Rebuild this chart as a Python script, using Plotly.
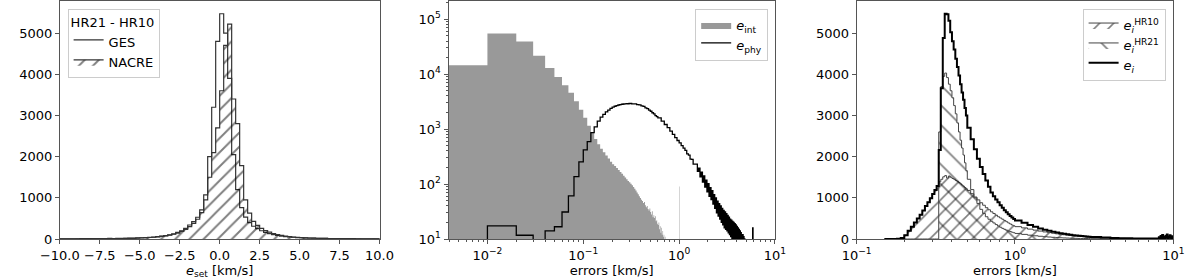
import numpy as np
import plotly.graph_objects as go

# ---------------- Panel 1: e_set histograms (bins of 0.25 km/s from -10 to 10)
p1_start, p1_step = -10.0, 0.25
ges_counts = [3, 5, 4, 6, 5, 7, 8, 7, 9, 10, 9, 12, 13, 12, 15, 17, 18, 21, 23, 27,
              30, 34, 40, 47, 56, 68, 82, 100, 125, 160, 200, 260,
              340, 421, 528, 705, 1070, 2000, 3200, 4800,
              5470, 5000, 3900, 2050, 1200, 760, 530, 400, 310, 250,
              200, 160, 130, 106, 87, 72, 60, 50, 42, 35,
              30, 26, 23, 20, 18, 16, 14, 12, 11, 10, 9, 8, 7, 7, 6, 5, 5, 4, 4, 3]
nacre_counts = [2, 3, 3, 4, 4, 5, 5, 6, 6, 7, 8, 8, 9, 10, 11, 12, 14, 15, 17, 19,
                27, 31, 36, 43, 51, 62, 75, 92, 115, 145, 185, 235,
                300, 380, 480, 640, 950, 1500, 2100, 2700,
                3600, 4700, 5220, 3400, 2800, 1780, 950, 630, 430, 330,
                260, 205, 165, 132, 106, 86, 70, 57, 47, 39,
                33, 28, 24, 21, 18, 16, 14, 12, 11, 10, 9, 8, 7, 6, 6, 5, 5, 4, 4, 3]

# ---------------- Panel 2: e_int and e_phy (linear bins, log axes)
eint_start, eint_step = 0.0, 0.01
eint_counts = [14500, 55000, 39000, 21500, 12900, 8900, 6300, 4600, 3200, 2250,
               1600, 1150, 850, 660, 530, 440, 380, 330, 290, 255,
               230, 212, 196, 180, 166, 154, 142, 132, 122, 114,
               108, 101, 95, 88, 82, 76, 70, 65, 60, 56,
               52, 49, 45, 47, 41, 38, 40, 35, 33, 36,
               31, 28, 32, 25, 27, 24, 26, 21, 22, 19,
               18, 20, 15, 17, 13, 16, 12, 14, 11, 12,
               9, 11, 8, 10, 7, 9, 6, 7, 5, 6,
               4, 5, 3, 4, 3, 3, 2, 3, 2, 2,
               1, 2, 1, 1, 1, 1, 0, 1, 0, 0,
               90]
ephy_seg_starts = [0.0, 0.3, 0.6]
ephy_seg_steps = [0.01, 0.02, 0.05]
ephy_counts_a = [5, 17.4, 11.7, 6, 14, 16.7, 31, 61, 136, 254,
                 417, 590, 860, 1100, 1400, 1650, 1850, 2050, 2220, 2380,
                 2500, 2600, 2680, 2740, 2790, 2830, 2860, 2880, 2900, 2890]
ephy_counts_b = [2920, 2870, 2880, 2790, 2760, 2640, 2580, 2430, 2350, 2210,
                 2110, 1980, 1890, 1760, 1690]
ephy_counts_c = [1600, 1400, 1210, 1060, 920, 800, 700, 620, 560, 500,
                 450, 410, 355, 335, 285, 280, 230, 230,
                 230, 170, 195, 135, 165, 108, 140, 88, 118, 72,
                 102, 60, 86, 52, 76, 43, 64, 36, 56, 30,
                 49, 26, 44, 23, 40, 20, 36, 18, 33, 16,
                 31, 15, 29, 14, 27, 13, 25, 12, 23, 11,
                 22, 10, 21, 9, 20, 8, 19, 8, 18, 7,
                 17, 7, 16, 6, 15, 6, 14, 5, 13, 5,
                 12, 4, 12, 4, 11, 3, 10, 3, 9, 3,
                 8, 2, 7, 2, 6, 2, 5, 2, 4, 1,
                 3, 1, 2, 1, 1, 1, 2, 16, 1, 0]

# ---------------- Panel 3: e_i histograms
p3_seg_starts = [0.15, 0.50, 1.0, 3.0, 8.0]
p3_seg_steps = [0.01, 0.025, 0.1, 0.5, 0.1]
hr10_counts = [0, 0, 2, 8, 25, 90, 200, 300, 400, 500,
               590, 690, 800, 890, 990, 1090, 1190, 1290, 1390, 1450,
               1510, 1540, 1480, 1530, 1500, 1470, 1450, 1420, 1400, 1370,
               1340, 1310, 1280, 1250, 1220,
               1180, 1100, 1020, 950, 880, 820, 760, 710, 660, 620,
               580, 540, 510, 480, 450, 420, 390, 365, 340, 320,
               300, 270, 240, 215, 192, 172, 155, 140, 126, 114,
               103, 93, 85, 78, 72, 66, 61, 56, 52, 49,
               40, 28, 20, 14, 10, 8, 6, 5, 4, 4,
               3, 2, 3, 2, 2, 3, 2, 2, 3, 2, 2, 2, 3, 2, 2, 2, 3, 2, 2, 2]
hr21_counts = [0, 0, 0, 0, 0, 0, 0, 0, 0, 0, 0, 0, 0, 0, 0, 0, 0, 0,
               2600, 3700, 3950, 4030, 3920, 3760, 3600, 3430, 3240, 3040,
               2820, 2600, 2400, 2210, 2040, 1850, 1660,
               1450, 1200, 1000, 860, 720, 620, 540, 480, 430, 390,
               350, 315, 285, 258, 235, 215, 197, 180, 165, 152,
               135, 112, 93, 78, 66, 56, 48, 41, 35, 30,
               26, 23, 20, 18, 16, 14, 13, 12, 11, 10,
               8, 6, 4, 3, 2, 2, 2, 1, 1, 1,
               1, 1, 0, 1, 1, 0, 1, 1, 0, 1, 1, 0, 1, 1, 0, 1, 1, 0, 1, 1]
ei_counts = [0, 0, 2, 8, 25, 90, 200, 300, 400, 500,
             590, 690, 800, 890, 990, 1090, 1190, 1290,
             2160, 3660, 4880, 5470, 5460, 5300, 5020, 4800, 4600, 4380,
             4180, 3970, 3760, 3560, 3380, 3180, 3000,
             2700, 2420, 2180, 1950, 1750, 1580, 1420, 1270, 1130, 1040,
             960, 890, 820, 760, 700, 650, 600, 560, 520, 485,
             450, 395, 340, 295, 258, 226, 200, 178, 158, 141,
             126, 113, 102, 93, 85, 78, 72, 66, 61, 57,
             48, 36, 27, 21, 17, 14, 12, 11, 10, 11,
             15, 40, 10, 70, 20, 95, 25, 50, 12, 80, 35, 110, 18, 60, 28, 90, 45, 22, 65, 30]
p3_seg_sizes = [35, 20, 20, 10, 20]


def seg_edges(starts, steps, sizes):
    parts = [s + d * np.arange(n) for s, d, n in zip(starts, steps, sizes)]
    last = starts[-1] + steps[-1] * sizes[-1]
    return np.round(np.concatenate(parts + [[last]]), 6)


def step_xy(edges, counts, floor=0.0):
    c = np.maximum(np.asarray(counts, float), floor)
    x = np.concatenate([[edges[0]], edges[:-1], [edges[-1]]])
    y = np.concatenate([[floor], c, [floor]])
    return x, y


p1_edges = seg_edges([p1_start], [p1_step], [len(ges_counts)])
eint_edges = seg_edges([eint_start], [eint_step], [len(eint_counts)])
eint_edges = np.where(eint_edges <= 0, 1e-3, eint_edges)
ephy_edges = seg_edges(ephy_seg_starts, ephy_seg_steps,
                       [len(ephy_counts_a), len(ephy_counts_b), len(ephy_counts_c)])
ephy_edges = np.where(ephy_edges <= 0, 1e-3, ephy_edges)
ephy_counts = ephy_counts_a + ephy_counts_b + ephy_counts_c
p3_edges = seg_edges(p3_seg_starts, p3_seg_steps, p3_seg_sizes)

EDGE = '#333333'
CLEAR = 'rgba(255,255,255,0)'
fig = go.Figure()

# Panel 1
x, y = step_xy(p1_edges, ges_counts)
fig.add_trace(go.Scatter(x=x, y=y, mode='lines', name='GES', legend='legend',
                         line=dict(shape='hv', color=EDGE, width=1.2),
                         fill='toself', fillcolor=CLEAR, xaxis='x', yaxis='y'))
x, y = step_xy(p1_edges, nacre_counts)
fig.add_trace(go.Scatter(x=x, y=y, mode='lines', name='NACRE', legend='legend',
                         line=dict(shape='hv', color=EDGE, width=1.2),
                         fill='toself', fillcolor=CLEAR,
                         fillpattern=dict(shape='/', fgcolor='#000', bgcolor=CLEAR,
                                          size=10, solidity=0.2),
                         xaxis='x', yaxis='y'))

# Panel 2
x, y = step_xy(eint_edges, eint_counts, floor=1.0)
fig.add_trace(go.Scatter(x=x, y=y, mode='lines', name='<i>e</i><sub>int</sub>', legend='legend2',
                         line=dict(shape='hv', color='#999999', width=0),
                         fill='toself', fillcolor='#999999', xaxis='x2', yaxis='y2'))
x, y = step_xy(ephy_edges, ephy_counts, floor=1.0)
fig.add_trace(go.Scatter(x=x, y=y, mode='lines', name='<i>e</i><sub>phy</sub>', legend='legend2',
                         line=dict(shape='hv', color='black', width=1.3),
                         fill='toself', fillcolor=CLEAR, xaxis='x2', yaxis='y2'))

# Panel 3
x, y = step_xy(p3_edges, hr10_counts)
fig.add_trace(go.Scatter(x=x, y=y, mode='lines', name='<i>e<sub>i</sub></i><sup>HR10</sup>',
                         legend='legend3', line=dict(shape='hv', color='#444', width=1),
                         fill='toself', fillcolor=CLEAR,
                         fillpattern=dict(shape='/', fgcolor='#000', bgcolor=CLEAR,
                                          size=10, solidity=0.16),
                         xaxis='x3', yaxis='y3'))
x, y = step_xy(p3_edges, hr21_counts)
fig.add_trace(go.Scatter(x=x, y=y, mode='lines', name='<i>e<sub>i</sub></i><sup>HR21</sup>',
                         legend='legend3', line=dict(shape='hv', color='#444', width=1),
                         fill='toself', fillcolor=CLEAR,
                         fillpattern=dict(shape='\\', fgcolor='#000', bgcolor=CLEAR,
                                          size=14, solidity=0.12),
                         xaxis='x3', yaxis='y3'))
x, y = step_xy(p3_edges, ei_counts)
fig.add_trace(go.Scatter(x=x, y=y, mode='lines', name='<i>e<sub>i</sub></i>',
                         legend='legend3', line=dict(shape='hv', color='black', width=2),
                         fill='toself', fillcolor=CLEAR, xaxis='x3', yaxis='y3'))

W = 1200.0
axis_common = dict(showline=True, linecolor='#555', linewidth=1, mirror=True,
                   ticks='outside', ticklen=4, tickwidth=1, tickcolor='#555',
                   showgrid=False, zeroline=False,
                   tickfont=dict(size=13, color='black'))


def minor_vals(d0, d1):
    return [k * 10.0 ** d for d in range(d0, d1) for k in range(2, 10)]


minor_common = dict(ticks='outside', ticklen=2, tickwidth=0.8, tickcolor='#555')

p1_ticks = [-10 + 2.5 * i for i in range(9)]
lin_yticks = [0, 1000, 2000, 3000, 4000, 5000]

fig.update_layout(
    width=1200, height=280,
    margin=dict(l=0, r=0, t=1, b=41),
    paper_bgcolor='white', plot_bgcolor='white',
    font=dict(family='DejaVu Sans', size=13, color='black'),
    xaxis=dict(domain=[41 / W, 370 / W], range=[-10, 10], tickvals=p1_ticks,
               tickformat='.1f', anchor='y',
               title=dict(text='<i>e</i><sub>set</sub> [km/s]', standoff=3,
                          font=dict(size=13)), **axis_common),
    yaxis=dict(domain=[0, 1], range=[0, 5780], tickvals=lin_yticks, anchor='x',
               **axis_common),
    xaxis2=dict(domain=[441 / W, 777 / W], type='log', range=[-2.406, 1], anchor='y2',
                tickvals=[0.01, 0.1, 1, 10],
                ticktext=['10<sup>−2</sup>', '10<sup>−1</sup>', '10<sup>0</sup>', '10<sup>1</sup>'],
                minor=dict(tickvals=minor_vals(-3, 1), **minor_common),
                title=dict(text='errors [km/s]', standoff=3, font=dict(size=13)),
                **axis_common),
    yaxis2=dict(domain=[0, 1], type='log', range=[1, 5.33], anchor='x2',
                tickvals=[10, 100, 1000, 10000, 100000],
                ticktext=['10<sup>1</sup>', '10<sup>2</sup>', '10<sup>3</sup>',
                          '10<sup>4</sup>', '10<sup>5</sup>'],
                minor=dict(tickvals=minor_vals(1, 6), **minor_common),
                **axis_common),
    xaxis3=dict(domain=[861 / W, 1187 / W], type='log', range=[-1, 1], anchor='y3',
                tickvals=[0.1, 1, 10],
                ticktext=['10<sup>−1</sup>', '10<sup>0</sup>', '10<sup>1</sup>'],
                minor=dict(tickvals=minor_vals(-1, 1), **minor_common),
                title=dict(text='errors [km/s]', standoff=3, font=dict(size=13)),
                **axis_common),
    yaxis3=dict(domain=[0, 1], range=[0, 5780], tickvals=lin_yticks, anchor='x3',
                **axis_common),
    legend=dict(x=49 / W, y=0.966, xanchor='left', yanchor='top',
                title=dict(text='HR21 - HR10', side='top', font=dict(size=13)),
                bgcolor='rgba(255,255,255,0.8)', bordercolor='#cccccc', borderwidth=1,
                font=dict(size=13), itemwidth=30),
    legend2=dict(x=770 / W, y=0.966, xanchor='right', yanchor='top',
                 bgcolor='rgba(255,255,255,0.8)', bordercolor='#cccccc', borderwidth=1,
                 font=dict(size=13), itemwidth=30),
    legend3=dict(x=1179 / W, y=0.966, xanchor='right', yanchor='top',
                 bgcolor='rgba(255,255,255,0.8)', bordercolor='#cccccc', borderwidth=1,
                 font=dict(size=13), itemwidth=30),
    showlegend=True,
)

fig.write_html('out.html', config={'displayModeBar': False},
               post_script="document.body.style.margin='0px';")
